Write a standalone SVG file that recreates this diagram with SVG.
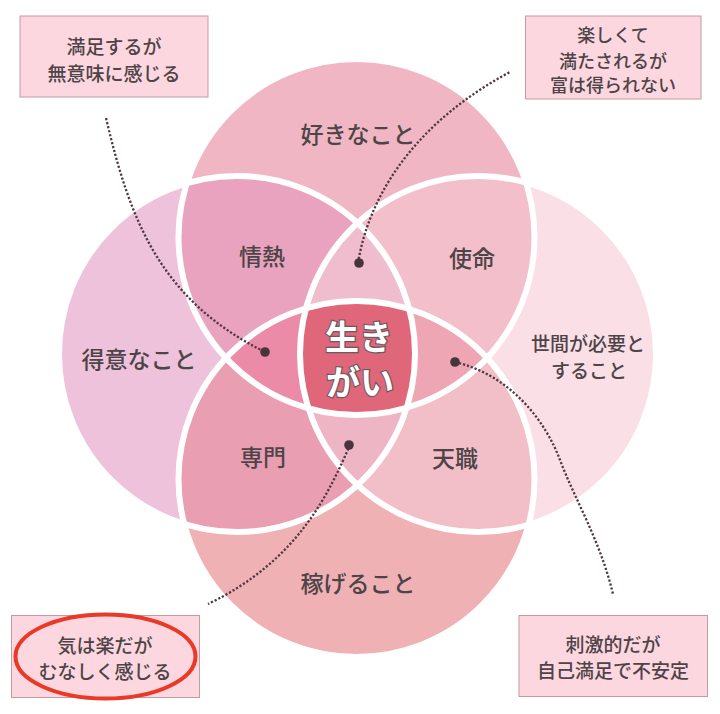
<svg xmlns="http://www.w3.org/2000/svg" width="720" height="714" viewBox="0 0 720 714">
<style>
.lbl{font-family:"Noto Sans CJK JP","Noto Sans",sans-serif;font-weight:500;fill:#4D4448;text-anchor:middle;dominant-baseline:central}
.big{font-size:23px}
.mid{font-size:19px}
.box{fill:#FDD7DF;stroke:#C49AA4;stroke-width:1}
.edge{fill:none;stroke:#FFFFFF;stroke-width:6}
.conn{fill:none;stroke:#4F3840;stroke-width:2.3;stroke-dasharray:2.2 1.9}
.dot{fill:#46353A}
.core{font-family:"Noto Sans CJK JP","Noto Sans",sans-serif;font-weight:700;font-size:34px;fill:#FFFFFF;stroke:#6A5A60;stroke-width:2.4;paint-order:stroke;text-anchor:middle;dominant-baseline:central}
</style>
<defs>
<clipPath id="cT"><circle cx="356.5" cy="237" r="178"/></clipPath>
<clipPath id="cL"><circle cx="237" cy="354" r="178"/></clipPath>
<clipPath id="cR"><circle cx="478" cy="354" r="178"/></clipPath>
<clipPath id="cB"><circle cx="356.5" cy="479" r="178"/></clipPath>
</defs>
<rect width="720" height="714" fill="#FFFFFF"/>

<g id="circle-top"><circle cx="356.5" cy="237" r="178" fill="#F1B6C4"/></g>
<g id="circle-left"><circle cx="237" cy="354" r="178" fill="#EEC2DA"/></g>
<g id="circle-right"><circle cx="478" cy="354" r="178" fill="#FADFE6"/></g>
<g id="circle-bottom"><circle cx="356.5" cy="479" r="178" fill="#F0B1B4"/></g>

<g id="region-passion"><circle cx="356.5" cy="237" r="178" fill="#EAA3BF" clip-path="url(#cL)"/></g>
<g id="region-mission"><circle cx="356.5" cy="237" r="178" fill="#F2BFCB" clip-path="url(#cR)"/></g>
<g id="region-profession"><circle cx="356.5" cy="479" r="178" fill="#E99EB2" clip-path="url(#cL)"/></g>
<g id="region-vocation"><circle cx="356.5" cy="479" r="178" fill="#F2BEC7" clip-path="url(#cR)"/></g>

<g id="lens-top" clip-path="url(#cR)"><circle cx="356.5" cy="237" r="178" fill="#EFBDCD" clip-path="url(#cL)"/></g>
<g id="lens-left" clip-path="url(#cB)"><circle cx="356.5" cy="237" r="178" fill="#EC8BA8" clip-path="url(#cL)"/></g>
<g id="lens-right" clip-path="url(#cB)"><circle cx="356.5" cy="237" r="178" fill="#EEA6B5" clip-path="url(#cR)"/></g>
<g id="lens-bottom" clip-path="url(#cB)"><circle cx="237" cy="354" r="178" fill="#EEB5C5" clip-path="url(#cR)"/></g>
<g id="center-ikigai" clip-path="url(#cB)"><g clip-path="url(#cR)"><circle cx="356.5" cy="237" r="178" fill="#E0667A" clip-path="url(#cL)"/></g></g>

<g id="edges">
<circle class="edge" cx="356.5" cy="237" r="178"/>
<circle class="edge" cx="237" cy="354" r="178"/>
<circle class="edge" cx="478" cy="354" r="178"/>
<circle class="edge" cx="356.5" cy="479" r="178"/>
</g>

<g id="labels">
<text class="lbl big" x="358" y="133">好きなこと</text>
<text class="lbl big" x="139" y="358">得意なこと</text>
<text class="lbl mid" x="588" y="342">世間が必要と</text>
<text class="lbl mid" x="589" y="369">すること</text>
<text class="lbl big" x="358" y="582">稼げること</text>
<text class="lbl big" x="262" y="255">情熱</text>
<text class="lbl big" x="472" y="257">使命</text>
<text class="lbl big" x="263" y="456">専門</text>
<text class="lbl big" x="455" y="457">天職</text>
<text class="core" x="359" y="335">生き</text>
<text class="core" x="360" y="380">がい</text>
</g>

<g id="connectors">
<path class="conn" d="M106,118 C130,220 160,300 265,352"/>
<path class="conn" d="M358,263 C370,190 420,120 510,72"/>
<path class="conn" d="M455,362 C510,375 545,420 560,460 S600,540 613,594"/>
<path class="conn" d="M350,445 C330,490 300,560 208,604"/>
<circle class="dot" cx="265" cy="352" r="4.8"/>
<circle class="dot" cx="359" cy="263" r="4.8"/>
<circle class="dot" cx="455" cy="362" r="4.8"/>
<circle class="dot" cx="349" cy="445" r="4.8"/>
</g>

<g id="note-top-left">
<rect class="box" x="20" y="16" width="188" height="81"/>
<text class="lbl mid" x="114" y="45">満足するが</text>
<text class="lbl mid" x="114" y="72">無意味に感じる</text>
</g>
<g id="note-top-right">
<rect class="box" x="525.5" y="16" width="175.5" height="83"/>
<text class="lbl" style="font-size:18px" x="613" y="34">楽しくて</text>
<text class="lbl" style="font-size:18px" x="613" y="59.5">満たされるが</text>
<text class="lbl" style="font-size:18px" x="613" y="84">富は得られない</text>
</g>
<g id="note-bottom-left">
<rect class="box" x="11.5" y="615.5" width="188" height="82"/>
<text class="lbl mid" x="105" y="644">気は楽だが</text>
<text class="lbl mid" x="105" y="670.5">むなしく感じる</text>
<ellipse cx="105.5" cy="656.5" rx="90" ry="42" fill="none" stroke="#E83A26" stroke-width="4"/>
</g>
<g id="note-bottom-right">
<rect class="box" x="519" y="615.5" width="188.5" height="81"/>
<text class="lbl mid" x="613" y="643.5">刺激的だが</text>
<text class="lbl mid" x="613" y="669.5">自己満足で不安定</text>
</g>
</svg>
